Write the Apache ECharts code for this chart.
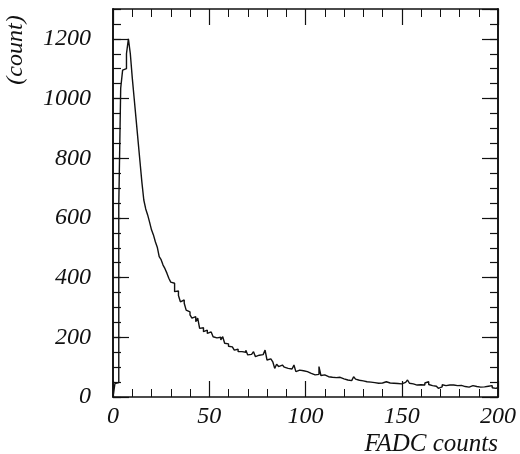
<!DOCTYPE html>
<html>
<head>
<meta charset="utf-8">
<script src="https://cdn.jsdelivr.net/npm/echarts@6/dist/echarts.min.js"></script>
<style>html,body{margin:0;padding:0;background:#fff;}#c{width:520px;height:454px;}</style>
</head>
<body>
<div id="c"></div>
<script>
// Histogram of FADC counts: bin i covers [i, i+1)
const counts = [
  0, 45, 48, 640, 1035, 1095, 1100, 1150, 1200, 1150,
  1070, 1000, 930, 860, 790, 720, 660, 630, 610, 586,
  560, 543, 520, 502, 470, 460, 442, 430, 415, 398,
  385, 381, 353, 355, 340, 319, 325, 314, 291, 285,
  275, 264, 269, 252, 264, 230, 232, 219, 224, 213,
  218, 219, 202, 198, 196, 200, 191, 202, 180, 178,
  170, 168, 163, 157, 160, 152, 152, 155, 150, 157,
  141, 143, 140, 152, 135, 140, 138, 142, 146, 157,
  124, 128, 122, 118, 96, 110, 102, 107, 104, 100,
  96, 98, 94, 90, 107, 85, 90, 85, 88, 84,
  85, 80, 79, 81, 74, 78, 76, 102, 72, 74,
  70, 68, 71, 66, 69, 65, 64, 66, 63, 61,
  60, 57, 59, 55, 58, 68, 60, 56, 58, 54,
  53, 51, 53, 50, 52, 48, 49, 46, 50, 47,
  49, 51, 51, 47, 49, 46, 48, 45, 50, 44,
  47, 49, 45, 57, 46, 44, 48, 40, 35, 41,
  44, 40, 47, 51, 42, 38, 43, 36, 33, 29,
  34, 41, 38, 36, 40, 37, 40, 35, 38, 36,
  39, 34, 35, 37, 33, 36, 38, 32, 35, 30,
  33, 37, 34, 40, 36, 33, 38, 31, 29, 32
];
const binWidth = 1;
const xTicks = [0, 50, 100, 150, 200];
const yTicks = [0, 200, 400, 600, 800, 1000, 1200];
const xTitle = 'FADC counts';
const yTitle = '(count)';

const data = counts.map((v, i) => [i * binWidth, v]);
data.push([counts.length * binWidth, counts[counts.length - 1]]);

const font = {fontFamily: 'Liberation Serif', fontStyle: 'italic', fontSize: 24, color: '#111'};
const lineStyle = {color: '#111', width: 1.6};

function xAx(pos, labels) {
  return {
    type: 'value', position: pos, min: 0, max: 200, interval: 50,
    axisLine: {show: true, onZero: false, lineStyle: lineStyle},
    axisTick: {show: true, inside: true, length: 16, lineStyle: {color: '#111', width: 1.2}},
    minorTick: {show: true, splitNumber: 5, length: 8, lineStyle: {color: '#111', width: 1}},
    axisLabel: labels ? Object.assign({show: true, margin: 8,
      formatter: v => xTicks.includes(v) ? String(v) : ''}, font) : {show: false},
    splitLine: {show: false}, minorSplitLine: {show: false}
  };
}
function yAx(pos, interval, len, labels) {
  return {
    type: 'value', position: pos, min: 0, max: 1300, interval: interval,
    axisLine: {show: true, onZero: false, lineStyle: lineStyle},
    axisTick: {show: true, inside: true, length: len, lineStyle: {color: '#111', width: 1.2}},
    axisLabel: labels ? Object.assign({show: true, margin: 22, showMaxLabel: false,
      formatter: v => yTicks.includes(v) ? String(v) : ''}, font) : {show: false},
    splitLine: {show: false}
  };
}

const chart = echarts.init(document.getElementById('c'), null, {renderer: 'canvas'});
chart.setOption({
  animation: false,
  backgroundColor: '#fff',
  grid: {left: 113, top: 9, width: 385, height: 388, containLabel: false},
  xAxis: [xAx('bottom', true), xAx('top', false)],
  yAxis: [yAx('left', 200, 16, true), yAx('left', 50, 8, false),
          yAx('right', 200, 16, false), yAx('right', 50, 8, false)],
  series: [{
    type: 'line', step: 'end', data: data, xAxisIndex: 0, yAxisIndex: 0,
    showSymbol: false, symbol: 'none', clip: true,
    lineStyle: {color: '#111', width: 1.4}
  }],
  graphic: [
    {type: 'text', right: 22, top: 432,
     style: {text: xTitle, font: 'italic 25px "Liberation Serif"', fill: '#111'}},
    {type: 'text', x: 16, y: 50, rotation: Math.PI / 2,
     style: {text: yTitle, font: 'italic 24px "Liberation Serif"', fill: '#111',
             align: 'center', verticalAlign: 'middle'}}
  ]
});
</script>
</body>
</html>
